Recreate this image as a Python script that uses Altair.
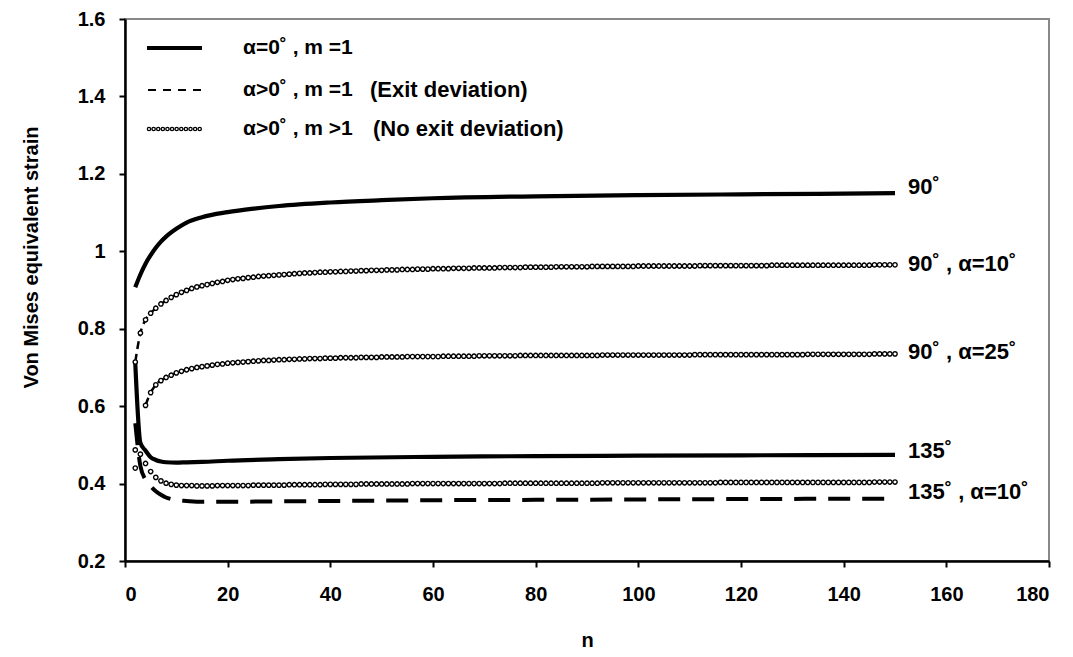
import altair as alt
import pandas as pd

FONT = "Liberation Sans"

# ---------------- data ----------------
# alpha = 0, m = 1 (solid lines)
s90_n = [2, 3, 4, 5, 6, 7, 8, 10, 12, 15, 20, 25, 30, 40, 50, 60, 80, 100, 120, 150]
s90_v = [0.907, 0.940, 0.968, 0.990, 1.009, 1.025, 1.038, 1.058, 1.074, 1.088,
         1.101, 1.110, 1.117, 1.126, 1.132, 1.137, 1.142, 1.145, 1.147, 1.150]
s135_n = [2, 3, 4, 5, 6, 7, 8, 10, 12, 15, 20, 30, 40, 60, 80, 100, 120, 150]
s135_v = [0.712, 0.505, 0.485, 0.468, 0.461, 0.457, 0.455, 0.454, 0.455, 0.456,
          0.459, 0.463, 0.466, 0.469, 0.471, 0.472, 0.473, 0.474]

# alpha > 0, m = 1 (dashed lines, exit deviation)
d135a10_n = [2, 3, 4, 5, 6, 7, 8, 9, 10, 12, 15, 20, 30, 40, 60, 80, 100, 120, 150]
d135a10_v = [0.556, 0.445, 0.410, 0.393, 0.380, 0.371, 0.364, 0.360, 0.357, 0.355,
             0.353, 0.353, 0.354, 0.355, 0.357, 0.358, 0.359, 0.360, 0.361]
d90a10_n = [2, 3, 4, 5, 6, 8, 10, 15, 20, 30, 40, 60, 80, 100, 150]
d90a10_v = [0.714, 0.789, 0.823, 0.840, 0.853, 0.873, 0.888, 0.911, 0.925, 0.939,
            0.947, 0.954, 0.958, 0.960, 0.963]
d90a25_n = [4, 5, 6, 8, 10, 15, 20, 30, 40, 60, 80, 100, 150]
d90a25_v = [0.602, 0.635, 0.655, 0.674, 0.686, 0.702, 0.711, 0.720, 0.724, 0.728,
            0.730, 0.732, 0.735]

# alpha > 0, m > 1 (circles, no exit deviation), one value per n
c90a10_n = list(range(2, 151))
c90a10_v = [
    0.714, 0.789, 0.823, 0.840, 0.853, 0.864, 0.873, 0.881, 0.888,
    0.894, 0.899, 0.904, 0.908, 0.911, 0.914, 0.917, 0.920, 0.922, 0.925,
    0.927, 0.929, 0.930, 0.932, 0.933, 0.935, 0.936, 0.937, 0.938, 0.939,
    0.940, 0.941, 0.942, 0.943, 0.944, 0.944, 0.945, 0.946, 0.946, 0.947,
    0.947, 0.948, 0.948, 0.949, 0.949, 0.950, 0.950, 0.951, 0.951, 0.951,
    0.952, 0.952, 0.952, 0.953, 0.953, 0.953, 0.954, 0.954, 0.954, 0.955,
    0.955, 0.955, 0.955, 0.956, 0.956, 0.956, 0.956, 0.957, 0.957, 0.957,
    0.957, 0.957, 0.958, 0.958, 0.958, 0.958, 0.958, 0.959, 0.959, 0.959,
    0.959, 0.959, 0.959, 0.960, 0.960, 0.960, 0.960, 0.960, 0.960, 0.960,
    0.961, 0.961, 0.961, 0.961, 0.961, 0.961, 0.961, 0.961, 0.961, 0.962,
    0.962, 0.962, 0.962, 0.962, 0.962, 0.962, 0.962, 0.962, 0.962, 0.962,
    0.962, 0.963, 0.963, 0.963, 0.963, 0.963, 0.963, 0.963, 0.963, 0.963,
    0.963, 0.963, 0.963, 0.963, 0.963, 0.964, 0.964, 0.964, 0.964, 0.964,
    0.964, 0.964, 0.964, 0.964, 0.964, 0.964, 0.964, 0.964, 0.964, 0.964,
    0.964, 0.964, 0.964, 0.964, 0.964, 0.965, 0.965, 0.965, 0.965, 0.965,
]
c90a25_n = [2] + list(range(4, 151))
c90a25_v = [
    0.440,
    0.602, 0.635, 0.655, 0.666, 0.674, 0.680, 0.686,
    0.690, 0.694, 0.697, 0.700, 0.702, 0.704, 0.706, 0.708, 0.709, 0.711,
    0.712, 0.713, 0.714, 0.715, 0.716, 0.717, 0.718, 0.718, 0.719, 0.720,
    0.720, 0.721, 0.721, 0.722, 0.722, 0.723, 0.723, 0.723, 0.724, 0.724,
    0.724, 0.725, 0.725, 0.725, 0.725, 0.726, 0.726, 0.726, 0.726, 0.727,
    0.727, 0.727, 0.727, 0.727, 0.728, 0.728, 0.728, 0.728, 0.728, 0.728,
    0.728, 0.729, 0.729, 0.729, 0.729, 0.729, 0.729, 0.729, 0.730, 0.730,
    0.730, 0.730, 0.730, 0.730, 0.730, 0.730, 0.731, 0.731, 0.731, 0.731,
    0.731, 0.731, 0.731, 0.731, 0.731, 0.731, 0.731, 0.731, 0.731, 0.731,
    0.731, 0.731, 0.732, 0.732, 0.732, 0.732, 0.732, 0.732, 0.732, 0.732,
    0.732, 0.732, 0.732, 0.732, 0.732, 0.732, 0.732, 0.732, 0.732, 0.732,
    0.733, 0.733, 0.733, 0.733, 0.733, 0.733, 0.733, 0.733, 0.733, 0.733,
    0.733, 0.733, 0.733, 0.733, 0.733, 0.733, 0.733, 0.733, 0.733, 0.733,
    0.733, 0.733, 0.734, 0.734, 0.734, 0.734, 0.734, 0.734, 0.734, 0.734,
    0.734, 0.734, 0.734, 0.734, 0.734, 0.735, 0.735, 0.735, 0.735, 0.735,
]
c135a10_n = list(range(2, 151))
c135a10_v = [
    0.487, 0.476, 0.452, 0.431, 0.416, 0.407, 0.401, 0.398, 0.396,
    0.395, 0.395, 0.395, 0.394, 0.394, 0.394, 0.394, 0.395, 0.395, 0.395,
    0.395, 0.395, 0.395, 0.395, 0.396, 0.396, 0.396, 0.396, 0.396, 0.396,
    0.396, 0.397, 0.397, 0.397, 0.397, 0.397, 0.397, 0.397, 0.398, 0.398,
    0.398, 0.398, 0.398, 0.398, 0.398, 0.399, 0.399, 0.399, 0.399, 0.399,
    0.399, 0.399, 0.399, 0.399, 0.399, 0.400, 0.400, 0.400, 0.400, 0.400,
    0.400, 0.400, 0.400, 0.400, 0.400, 0.400, 0.400, 0.400, 0.400, 0.400,
    0.400, 0.400, 0.400, 0.401, 0.401, 0.401, 0.401, 0.401, 0.401, 0.401,
    0.401, 0.401, 0.401, 0.401, 0.401, 0.401, 0.401, 0.401, 0.401, 0.401,
    0.401, 0.401, 0.402, 0.402, 0.402, 0.402, 0.402, 0.402, 0.402, 0.402,
    0.402, 0.402, 0.402, 0.402, 0.402, 0.402, 0.402, 0.402, 0.402, 0.402,
    0.402, 0.402, 0.402, 0.402, 0.402, 0.403, 0.403, 0.403, 0.403, 0.403,
    0.403, 0.403, 0.403, 0.403, 0.403, 0.403, 0.403, 0.403, 0.403, 0.403,
    0.403, 0.403, 0.403, 0.403, 0.403, 0.403, 0.403, 0.403, 0.403, 0.403,
    0.403, 0.403, 0.403, 0.403, 0.403, 0.404, 0.404, 0.404, 0.404, 0.404,
]

# end-of-curve labels
end_labels = ["90˚", "90˚ , α=10˚", "90˚ , α=25˚", "135˚", "135˚ , α=10˚"]
end_label_n = [150, 150, 150, 150, 150]
end_label_v = [1.165, 0.967, 0.739, 0.484, 0.377]

legend_main = ["α=0˚ , m =1", "α>0˚ , m =1", "α>0˚ , m >1"]
legend_note = ["", "(Exit deviation)", "(No exit deviation)"]

x_ticks = [0, 20, 40, 60, 80, 100, 120, 140, 160, 180]
y_ticks = [0.2, 0.4, 0.6, 0.8, 1.0, 1.2, 1.4, 1.6]

# ---------------- tables ----------------
def long(pairs):
    rows = []
    for name, ns, vs in pairs:
        for n, v in zip(ns, vs):
            rows.append({"series": name, "n": n, "v": v})
    return pd.DataFrame(rows)

solid_df = long([("90", s90_n, s90_v), ("135", s135_n, s135_v)])
dash_thick_df = long([("135a10", d135a10_n, d135a10_v)])
dash_thin_df = long([("90a10", d90a10_n, d90a10_v), ("90a25", d90a25_n, d90a25_v)])
circ_df = long([("90a10", c90a10_n, c90a10_v), ("90a25", c90a25_n, c90a25_v),
                ("135a10", c135a10_n, c135a10_v)])
lab_df = pd.DataFrame({"label": end_labels, "n": end_label_n, "v": end_label_v})


def X():
    return alt.X("n:Q", scale=alt.Scale(domain=[0, 180], nice=False),
                 axis=alt.Axis(values=x_ticks, title="n", labelPadding=17,
                               titleY=79, titleBaseline="middle"))


def Y():
    return alt.Y("v:Q", scale=alt.Scale(domain=[0.2, 1.6], nice=False, zero=False),
                 axis=alt.Axis(values=y_ticks, format="~g", title="Von Mises equivalent strain",
                               labelPadding=14, titleX=-94, titleY=238, titleAngle=-90,
                               titleAlign="center", titleBaseline="middle"))


solid = alt.Chart(solid_df).mark_line(color="black", strokeWidth=4.2, interpolate="monotone").encode(
    x=X(), y=Y(), detail="series:N")
dash_thin = alt.Chart(dash_thin_df).mark_line(color="black", strokeWidth=2.5, strokeDash=[8, 5],
                                              interpolate="monotone").encode(
    x=X(), y=Y(), detail="series:N")
dash_thick = alt.Chart(dash_thick_df).mark_line(color="black", strokeWidth=4, strokeDash=[22, 12],
                                                interpolate="monotone").encode(
    x=X(), y=Y(), detail="series:N")
circles = alt.Chart(circ_df).mark_point(shape="circle", size=19, filled=False, fill="white",
                                        fillOpacity=1, stroke="black", strokeWidth=1.4,
                                        opacity=1).encode(x=X(), y=Y(), detail="series:N")
labels = alt.Chart(lab_df).mark_text(align="left", baseline="middle", dx=13, font=FONT,
                                     fontSize=22, fontWeight="bold", color="black").encode(
    x=X(), y=Y(), text="label:N")

# ---------------- legend (inside plot, top-left) ----------------
one = pd.DataFrame({"k": [1]})
leg_x0, leg_x1, leg_tx = 22, 77, 118
leg_note_x = [0, 245, 248]
leg_rows = [29, 71, 110]
leg_solid = alt.Chart(one).mark_rule(color="black", strokeWidth=4).encode(
    x=alt.value(leg_x0), x2=alt.value(leg_x1), y=alt.value(leg_rows[0]))
leg_dash = alt.Chart(one).mark_rule(color="black", strokeWidth=2, strokeDash=[8, 7]).encode(
    x=alt.value(leg_x0 + 1), x2=alt.value(leg_x1), y=alt.value(leg_rows[1]))
leg_circ_o = alt.Chart(one).mark_rule(color="black", strokeWidth=4.6, strokeDash=[0.01, 4.6],
                                      strokeCap="round").encode(
    x=alt.value(leg_x0 + 2), x2=alt.value(leg_x1), y=alt.value(leg_rows[2]))
leg_circ_i = alt.Chart(one).mark_rule(color="white", strokeWidth=2.0, strokeDash=[0.01, 4.6],
                                      strokeCap="round").encode(
    x=alt.value(leg_x0 + 2), x2=alt.value(leg_x1), y=alt.value(leg_rows[2]))
leg_texts = []
for t, note, nx, r in zip(legend_main, legend_note, leg_note_x, leg_rows):
    leg_texts.append(
        alt.Chart(one).mark_text(text=t, align="left", baseline="middle", font=FONT, fontSize=21,
                                 fontWeight="bold", color="black").encode(
            x=alt.value(leg_tx), y=alt.value(r)))
    if note:
        leg_texts.append(
            alt.Chart(one).mark_text(text=note, align="left", baseline="middle", font=FONT,
                                     fontSize=22, fontWeight="bold", color="black").encode(
                x=alt.value(nx), y=alt.value(r)))

chart = alt.layer(
    solid, dash_thin, dash_thick, circles, labels,
    leg_solid, leg_dash, leg_circ_o, leg_circ_i, *leg_texts
).properties(
    width=924, height=542,
    padding={"left": 117, "top": 11, "right": 16, "bottom": 88},
    autosize="none",
    background="white",
).configure_view(
    stroke="#888888", strokeWidth=2
).configure_axis(
    grid=False,
    domainColor="black", domainWidth=2.5,
    tickColor="black", tickWidth=2, tickSize=6,
    labelFont=FONT, labelFontSize=20, labelFontWeight="bold", labelColor="black",
    titleFont=FONT, titleFontSize=20, titleFontWeight="bold", titleColor="black",
)

chart.save("out.html", embed_options={"renderer": "svg", "actions": False})
